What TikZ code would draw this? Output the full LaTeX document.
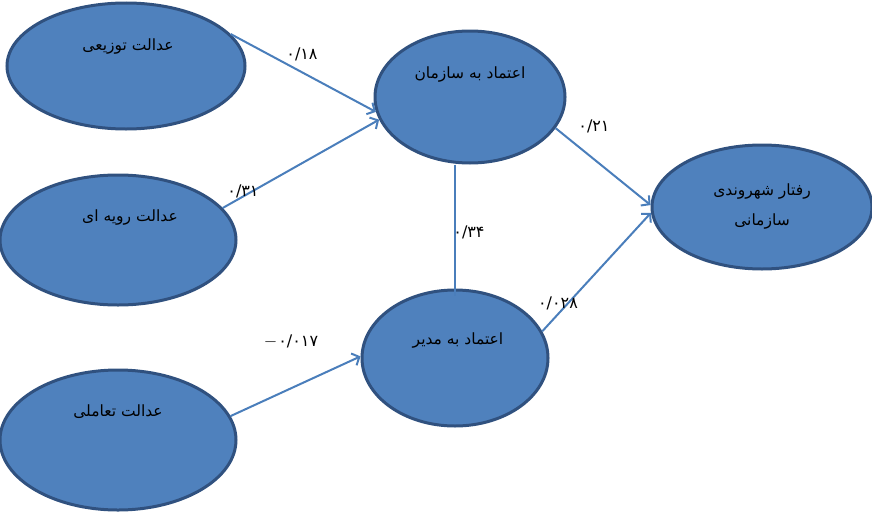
\documentclass[tikz,border=0pt]{standalone}
\usepackage{fontspec}
\TeXXeTstate=1
\newfontfamily\fa[Script=Arabic]{DejaVu Sans}
\usetikzlibrary{shapes.geometric,arrows.meta}
\definecolor{efill}{HTML}{4F81BD}
\definecolor{edraw}{HTML}{30517F}
\definecolor{conn}{HTML}{4A7EBB}
\tikzset{
  oval/.style={ellipse, draw=edraw, fill=efill, line width=3pt, inner sep=0pt},
  conx/.style={draw=conn, line width=2pt, -{Straight Barb[length=6pt,width=13pt]}},
  plain/.style={draw=conn, line width=2pt},
  otext/.style={font=\fa\fontsize{15.5}{30}\selectfont, text=black, align=center, inner sep=0pt},
  ntext/.style={font=\fa\fontsize{16}{18}\selectfont, text=black, inner sep=0pt}
}
\begin{document}
\begin{tikzpicture}[x=1pt,y=-1pt]
\useasboundingbox (0,0) rectangle (872,514);
% ellipses
\node[oval, minimum width=238pt, minimum height=126pt] (e1) at (126,66) {};
\node[oval, minimum width=236pt, minimum height=130pt] (e2) at (118,240) {};
\node[oval, minimum width=236pt, minimum height=140pt] (e3) at (118,440) {};
\node[oval, minimum width=190pt, minimum height=132pt] (e4) at (470,97) {};
\node[oval, minimum width=186pt, minimum height=136pt] (e5) at (455,358) {};
\node[oval, minimum width=220pt, minimum height=124pt] (e6) at (762,207) {};
% texts
\node[otext] (t1) at (128,47) {\beginR عدالت توزیعی\endR};
\node[otext] (t2) at (130,218) {\beginR عدالت رویه ای\endR};
\node[otext] (t3) at (118,412) {\beginR عدالت تعاملی\endR};
\node[otext] (t4) at (470,75) {\beginR اعتماد به سازمان\endR};
\node[otext] (t5) at (458,340) {\beginR اعتماد به مدیر\endR};
\node[otext] (t6) at (762,207) {\beginR رفتار شهروندی\endR\\\beginR سازمانی\endR};
% connectors
\draw[conx] (e1.17.6) -- (e4.189);
\draw[conx] (e2.17.6) -- (e4.194.7);
\draw[conx] (e3.12.6) -- (e5.179);
\draw[conx] (e4.-20.6) -- (e6.179);
\draw[conx] (e5.17) -- (e6.183);
\draw[plain] (e4.south -| e5.north) -- ([yshift=-7pt]e5.north);
% coefficients
\node[ntext] (l1) at (302,54) {۰/۱۸};
\node[ntext] (l2) at (243,191) {۰/۳۱};
\node[ntext] (l3) at (469,232) {۰/۳۴};
\node[ntext] (l4) at (558,303) {۰/۰۲۸};
\node[ntext] (l5) at (291,341) {$-$\hspace{1pt}۰/۰۱۷};
\node[ntext] (l6) at (594,126) {۰/۲۱};
\end{tikzpicture}
\end{document}
